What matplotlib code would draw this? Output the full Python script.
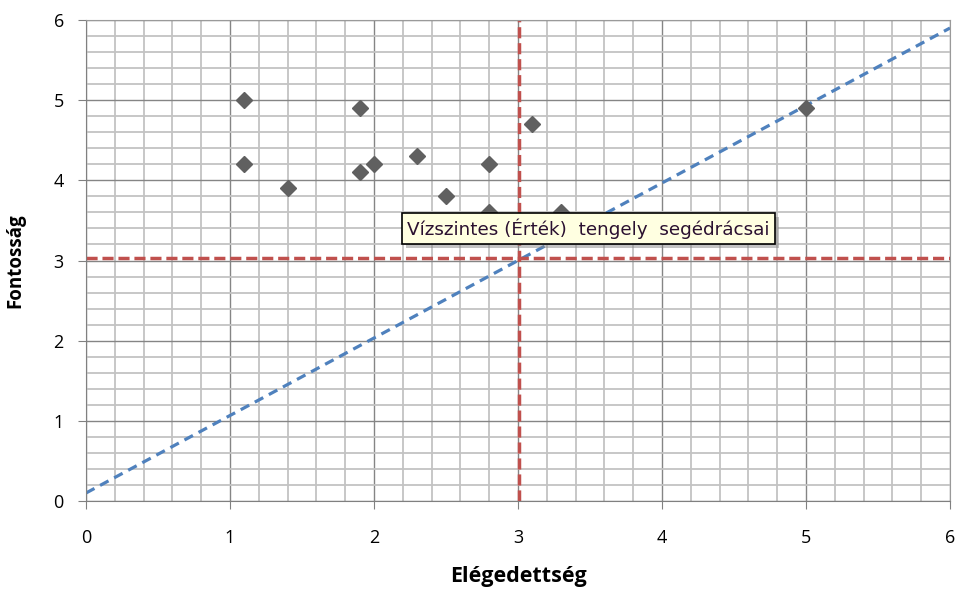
import numpy as np
import matplotlib
matplotlib.use("Agg")
import matplotlib.pyplot as plt
import matplotlib.patheffects as pe
from matplotlib.ticker import MultipleLocator

# scatter data (Elégedettség, Fontosság)
satisfaction = [1.1, 1.1, 1.4, 1.9, 1.9, 2.0, 2.3, 2.5, 2.8, 2.8, 3.1, 3.3, 5.0]
importance = [5.0, 4.2, 3.9, 4.9, 4.1, 4.2, 4.3, 3.8, 4.2, 3.6, 4.7, 3.6, 4.9]

# reference lines
avg_x = 3.01
avg_y = 3.03
diag_x = [0, 6]
diag_y = [0.1, 5.9]

ticks = [0, 1, 2, 3, 4, 5, 6]
tooltip = "Vízszintes (Érték)  tengely  segédrácsai"

plt.rcParams['font.family'] = ['Open Sans', 'DejaVu Sans']

fig = plt.figure(figsize=(9.6, 5.99), dpi=100)
ax = fig.add_axes([0.0896, 0.1636, 0.9, 0.803])

ax.set_xlim(0, 6)
ax.set_ylim(0, 6)
ax.set_xticks(ticks)
ax.set_yticks(ticks)
ax.xaxis.set_minor_locator(MultipleLocator(0.2))
ax.yaxis.set_minor_locator(MultipleLocator(0.2))
ax.grid(which="minor", color="#c3c3c3", linewidth=1.3, zorder=0)
ax.grid(which="major", color="#858585", linewidth=1.0, zorder=0)
ax.set_axisbelow(True)

for s in ax.spines.values():
    s.set_color("#9a9a9a")
ax.spines["left"].set_color("#808080")
ax.spines["bottom"].set_color("#808080")

ax.tick_params(which="major", length=6, color="#808080", labelsize=13, pad=10)
ax.tick_params(which="minor", length=0)
ax.tick_params(axis="x", pad=14)

ax.plot(diag_x, diag_y, linestyle=(0, (3, 2)), color="#4F81BD", linewidth=2.3, zorder=2)
ax.axvline(avg_x, linestyle=(0, (3.2, 1.4)), color="#C0504D", linewidth=2.5, zorder=2)
ax.axhline(avg_y, linestyle=(0, (3.2, 1.4)), color="#C0504D", linewidth=2.5, zorder=2)

ax.plot(satisfaction, importance, linestyle="none", marker="D", markersize=8.6,
        color="#606060", zorder=3)

ax.set_xlabel("Elégedettség", fontsize=15.5, fontweight="bold", labelpad=14)
ax.set_ylabel("Fontosság", fontsize=13.5, fontweight="bold", labelpad=20)

t = ax.text(2.23, 3.4, tooltip, fontsize=13.2, family="DejaVu Sans", color="#2a1030",
            ha="left", va="center", zorder=5,
            bbox=dict(boxstyle="square,pad=0.28", fc="#FFFFE1", ec="black", lw=1.2))
t.get_bbox_patch().set_path_effects([
    pe.SimplePatchShadow(offset=(3, -3), shadow_rgbFace="#888888", alpha=0.5),
    pe.Normal()])

fig.savefig("out.png", dpi=100)
